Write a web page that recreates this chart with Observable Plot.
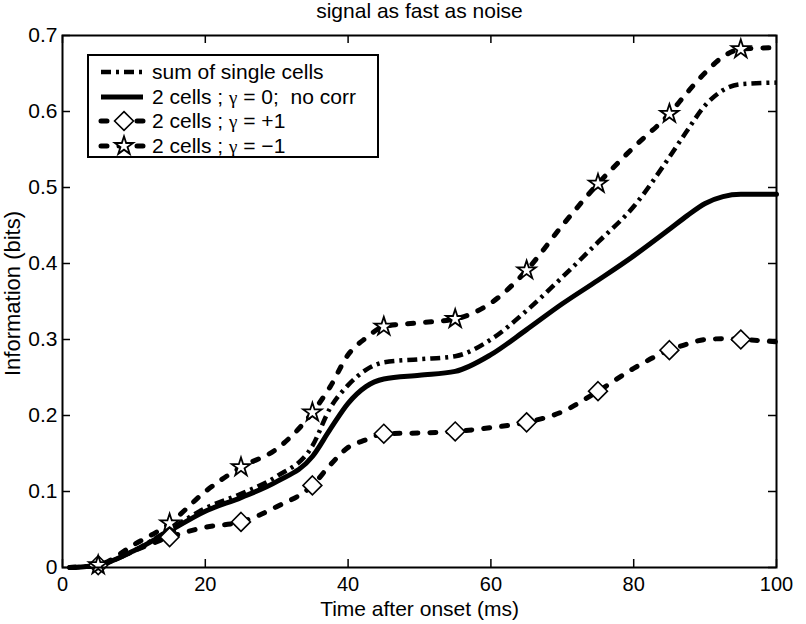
<!DOCTYPE html>
<html>
<head>
<meta charset="utf-8">
<script src="https://cdn.jsdelivr.net/npm/d3@7"></script>
<script src="https://cdn.jsdelivr.net/npm/@observablehq/plot@0.6"></script>
<style>
  html, body { margin: 0; padding: 0; background: #fff; }
  svg { display: block; }
</style>
</head>
<body>
<div id="chart"></div>
<script>
// ---- data ----
const time        = [1, 3, 5, 10, 15, 20, 25, 30, 35, 37.5, 40, 42.5, 45, 50, 55, 60, 65, 70, 75, 80, 85, 87.5, 90, 92.5, 95, 100];
const sumSingle   = [0, 0.001, 0.003, 0.022, 0.050, 0.078, 0.097, 0.120, 0.160, 0.210, 0.240, 0.260, 0.270, 0.274, 0.278, 0.300, 0.338, 0.382, 0.428, 0.475, 0.540, 0.575, 0.608, 0.628, 0.636, 0.638];
const noCorr      = [0, 0.001, 0.003, 0.022, 0.048, 0.074, 0.092, 0.113, 0.146, 0.182, 0.216, 0.238, 0.248, 0.253, 0.258, 0.280, 0.313, 0.347, 0.378, 0.410, 0.445, 0.463, 0.479, 0.488, 0.491, 0.491];
const corrPlus    = [0, 0.001, 0.003, 0.022, 0.040, 0.053, 0.060, 0.080, 0.108, 0.135, 0.158, 0.168, 0.176, 0.177, 0.179, 0.184, 0.191, 0.205, 0.232, 0.262, 0.286, 0.294, 0.300, 0.301, 0.300, 0.297];
const corrMinus   = [0, 0.001, 0.003, 0.030, 0.058, 0.100, 0.132, 0.156, 0.204, 0.238, 0.280, 0.302, 0.317, 0.322, 0.327, 0.348, 0.391, 0.450, 0.505, 0.553, 0.597, 0.625, 0.651, 0.672, 0.682, 0.684];
const markerTimes = [5, 15, 25, 35, 45, 55, 65, 75, 85, 95];

const xTicks = [0, 20, 40, 60, 80, 100];
const xTickLabels = ["0", "20", "40", "60", "80", "100"];
const yTicks = [0, 0.1, 0.2, 0.3, 0.4, 0.5, 0.6, 0.7];
const yTickLabels = ["0", "0.1", "0.2", "0.3", "0.4", "0.5", "0.6", "0.7"];

const titleText = "signal as fast as noise";
const xLabel = "Time after onset (ms)";
const yLabel = "Information (bits)";
const legendLabels = [
  ["sum of single cells"],
  ["2 cells ; ", "γ", " = 0;  no corr"],
  ["2 cells ; ", "γ", " = +1"],
  ["2 cells ; ", "γ", " = \u22121"]
];

// ---- build tables ----
const rows = vals => time.map((t, i) => ({t, v: vals[i]}));
const marks = vals => rows(vals).filter(d => markerTimes.includes(d.t));

const W = 806, H = 624, mL = 62, mR = 30, mT = 35, mB = 57;
const fw = W - mL - mR, fh = H - mT - mB;
const font = "'Liberation Sans', Arial, Helvetica, sans-serif";

const dashed = {strokeWidth: 5, strokeDasharray: "6,12", strokeLinecap: "round"};
const dashdot = {strokeWidth: 4.5, strokeDasharray: "10,5,3,5", strokeLinecap: "butt"};

const plot = Plot.plot({
  width: W, height: H,
  marginLeft: mL, marginRight: mR, marginTop: mT, marginBottom: mB,
  style: {fontFamily: font, background: "white", color: "black", overflow: "visible"},
  x: {domain: [0, 100]},
  y: {domain: [0, 0.7]},
  marks: [
    Plot.axisX(xTicks, {tickSize: 0, tickPadding: 9, fontSize: 20, label: null,
      tickFormat: d => xTickLabels[xTicks.indexOf(d)]}),
    Plot.axisY(yTicks, {tickSize: 0, tickPadding: 5, fontSize: 21, label: null,
      tickFormat: d => yTickLabels[yTicks.indexOf(d)]}),
    // inward ticks on all four sides
    Plot.tickX(xTicks, {x: d => d, insetTop: fh - 8, stroke: "black", strokeWidth: 1.5}),
    Plot.tickX(xTicks, {x: d => d, insetBottom: fh - 8, stroke: "black", strokeWidth: 1.5}),
    Plot.tickY(yTicks, {y: d => d, insetRight: fw - 8, stroke: "black", strokeWidth: 1.5}),
    Plot.tickY(yTicks, {y: d => d, insetLeft: fw - 8, stroke: "black", strokeWidth: 1.5}),
    // curves
    Plot.line(rows(sumSingle), {x: "t", y: "v", stroke: "black", curve: "monotone-x", ...dashdot}),
    Plot.line(rows(noCorr), {x: "t", y: "v", stroke: "black", strokeWidth: 5, curve: "monotone-x"}),
    Plot.line(rows(corrPlus), {x: "t", y: "v", stroke: "black", curve: "monotone-x", ...dashed}),
    Plot.line(rows(corrMinus), {x: "t", y: "v", stroke: "black", curve: "monotone-x", ...dashed}),
    Plot.dot(marks(corrPlus), {x: "t", y: "v", symbol: "diamond2", r: 8.5, fill: "white", stroke: "black", strokeWidth: 1.6}),
    Plot.dot(marks(corrMinus), {x: "t", y: "v", symbol: "star", r: 5.8, fill: "white", stroke: "black", strokeWidth: 1.8}),
    Plot.frame({stroke: "black", strokeWidth: 2}),
    // texts
    Plot.text([titleText], {frameAnchor: "top", dy: -24, fontSize: 21, lineAnchor: "middle"}),
    Plot.text([xLabel], {frameAnchor: "bottom", dy: 42, fontSize: 21, lineAnchor: "middle"}),
    Plot.text([yLabel], {frameAnchor: "left", dx: -50, dy: -8, rotate: -90, textAnchor: "middle", lineAnchor: "middle", fontSize: 22})
  ]
});

document.getElementById("chart").appendChild(plot);

// ---- legend box ----
const svg = d3.select(plot);
const lg = svg.append("g").attr("class", "legend").attr("text-anchor", "start");
const box = {x: 88, y: 55, w: 290, h: 102};
lg.append("rect").attr("x", box.x).attr("y", box.y).attr("width", box.w).attr("height", box.h)
  .attr("fill", "white").attr("stroke", "black").attr("stroke-width", 2);

const rowY = [72, 97, 121, 146];
const sx0 = 101, sx1 = 143, tx = 152;
const styles = [dashdot, {strokeWidth: 5}, dashed, dashed];
legendLabels.forEach((parts, i) => {
  const y = rowY[i], st = styles[i];
  const ln = lg.append("line").attr("x1", sx0).attr("x2", sx1).attr("y1", y).attr("y2", y)
    .attr("stroke", "black").attr("stroke-width", st.strokeWidth).attr("fill", "none");
  if (st.strokeDasharray) ln.attr("stroke-dasharray", st.strokeDasharray).attr("stroke-linecap", st.strokeLinecap);
  if (i === 2) {
    lg.append("path").attr("transform", `translate(124,${y})`)
      .attr("d", d3.symbol(d3.symbolDiamond2, 8.5 * 8.5 * Math.PI)())
      .attr("fill", "white").attr("stroke", "black").attr("stroke-width", 1.6);
  }
  if (i === 3) {
    lg.append("path").attr("transform", `translate(124,${y})`)
      .attr("d", d3.symbol(d3.symbolStar, 5.8 * 5.8 * Math.PI)())
      .attr("fill", "white").attr("stroke", "black").attr("stroke-width", 1.8);
  }
  const t = lg.append("text").attr("x", tx).attr("y", y).attr("dy", "0.35em")
    .attr("text-anchor", "start")
    .attr("font-family", font).attr("font-size", 21).attr("fill", "black")
    .style("white-space", "pre");
  parts.forEach((p, j) => {
    const sp = t.append("tspan").text(p);
    if (p === "γ") sp.attr("font-family", "'Liberation Serif', 'DejaVu Serif', serif").attr("font-size", 19);
  });
});
</script>
</body>
</html>
